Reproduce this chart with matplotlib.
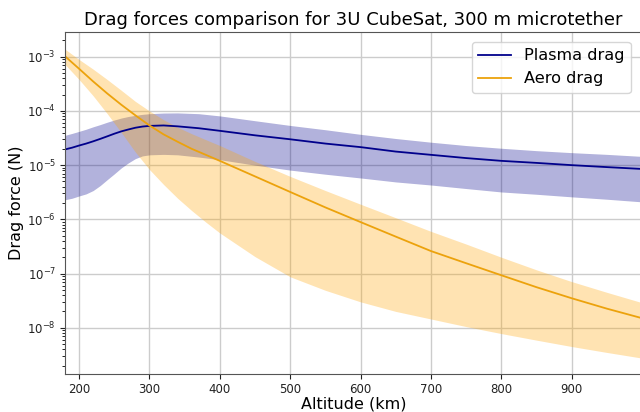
import numpy as np
import matplotlib
matplotlib.use("Agg")
import matplotlib.pyplot as plt
from matplotlib.ticker import LogLocator, NullFormatter

# altitude (km) and drag forces (N)
plasma_alt = [180, 190, 200, 210, 220, 230, 240, 250, 260, 270, 280, 290, 300, 320, 340, 370,
              400, 450, 500, 550, 600, 650, 700, 750, 800, 850, 900, 950, 1000]
plasma_mid = [1.95e-5, 2.1e-5, 2.3e-5, 2.5e-5, 2.75e-5, 3.05e-5, 3.4e-5, 3.8e-5, 4.2e-5, 4.55e-5,
              4.9e-5, 5.15e-5, 5.3e-5, 5.4e-5, 5.2e-5, 4.8e-5, 4.3e-5, 3.55e-5, 3.0e-5, 2.5e-5,
              2.15e-5, 1.78e-5, 1.55e-5, 1.35e-5, 1.2e-5, 1.1e-5, 1.0e-5, 9.2e-6, 8.5e-6]
plasma_hi = [3.55e-5, 3.85e-5, 4.2e-5, 4.6e-5, 5.1e-5, 5.6e-5, 6.2e-5, 6.8e-5, 7.4e-5, 7.9e-5,
             8.3e-5, 8.65e-5, 8.9e-5, 9.15e-5, 9.2e-5, 8.9e-5, 8.1e-5, 6.6e-5, 5.4e-5, 4.5e-5,
             3.7e-5, 3.1e-5, 2.65e-5, 2.3e-5, 2.05e-5, 1.85e-5, 1.7e-5, 1.58e-5, 1.45e-5]
plasma_lo = [2.3e-6, 2.45e-6, 2.7e-6, 2.95e-6, 3.4e-6, 4.2e-6, 5.4e-6, 6.9e-6, 8.9e-6, 1.1e-5,
             1.32e-5, 1.48e-5, 1.55e-5, 1.58e-5, 1.55e-5, 1.41e-5, 1.26e-5, 1.0e-5, 8.1e-6, 6.8e-6,
             5.8e-6, 4.9e-6, 4.3e-6, 3.7e-6, 3.2e-6, 2.9e-6, 2.6e-6, 2.35e-6, 2.1e-6]

aero_alt = [180, 200, 220, 240, 260, 280, 300, 320, 340, 360, 380, 400, 450, 500, 550,
            600, 650, 700, 750, 800, 850, 900, 950, 1000]
aero_mid = [1.02e-3, 6.0e-4, 3.5e-4, 2.1e-4, 1.3e-4, 8.3e-5, 5.4e-5, 3.7e-5, 2.7e-5, 2.0e-5,
            1.55e-5, 1.2e-5, 6.2e-6, 3.2e-6, 1.66e-6, 8.9e-7, 4.8e-7, 2.6e-7, 1.55e-7, 9.3e-8,
            5.6e-8, 3.5e-8, 2.25e-8, 1.5e-8]
aero_hi = [1.38e-3, 8.9e-4, 5.9e-4, 3.8e-4, 2.4e-4, 1.5e-4, 1.0e-4, 6.9e-5, 5.0e-5, 3.8e-5,
           2.95e-5, 2.3e-5, 1.17e-5, 6.2e-6, 3.4e-6, 1.9e-6, 1.07e-6, 6.0e-7, 3.5e-7, 2.0e-7,
           1.17e-7, 7.1e-8, 4.5e-8, 2.9e-8]
aero_lo = [7.2e-4, 3.8e-4, 1.9e-4, 8.9e-5, 4.0e-5, 1.74e-5, 8.3e-6, 4.4e-6, 2.45e-6, 1.45e-6,
           8.9e-7, 5.6e-7, 2.05e-7, 8.7e-8, 4.9e-8, 3.0e-8, 2.0e-8, 1.45e-8, 1.05e-8, 7.8e-9,
           5.9e-9, 4.5e-9, 3.5e-9, 2.75e-9]

x_ticks = [200, 300, 400, 500, 600, 700, 800, 900]
y_ticks = [1e-8, 1e-7, 1e-6, 1e-5, 1e-4, 1e-3]

fig = plt.figure(figsize=(6.4, 4.12), dpi=100)
ax = fig.add_axes([0.1016, 0.0922, 0.9016, 0.8301])

ax.fill_between(plasma_alt, plasma_lo, plasma_hi, color='darkblue', alpha=0.3, lw=0)
ax.fill_between(aero_alt, aero_lo, aero_hi, color='orange', alpha=0.3, lw=0)
ax.plot(plasma_alt, plasma_mid, color='darkblue', lw=1.3, label='Plasma drag')
ax.plot(aero_alt, aero_mid, color='#eca20c', lw=1.3, label='Aero drag')

ax.set_yscale('log')
ax.set_xlim(180, 1000)
ax.set_ylim(1.4e-9, 2.86e-3)
ax.set_xticks(x_ticks)
ax.set_yticks(y_ticks)
ax.yaxis.set_minor_locator(LogLocator(base=10, subs=np.arange(2, 10)))
ax.yaxis.set_minor_formatter(NullFormatter())
ax.grid(True, color='#cccccc', lw=1)
ax.set_axisbelow(True)
for s in ax.spines.values():
    s.set_color('#555555')
ax.tick_params(labelsize=8.5, colors='#222222', pad=3)

ax.set_title('Drag forces comparison for 3U CubeSat, 300 m microtether', fontsize=13, pad=5)
ax.set_xlabel('Altitude (km)', fontsize=11.5, labelpad=0)
ax.set_ylabel('Drag force (N)', fontsize=11.5, labelpad=2)
ax.legend(loc='upper right', fontsize=11.6, bbox_to_anchor=(0.994, 0.995))

plt.savefig('out.png', dpi=100)
